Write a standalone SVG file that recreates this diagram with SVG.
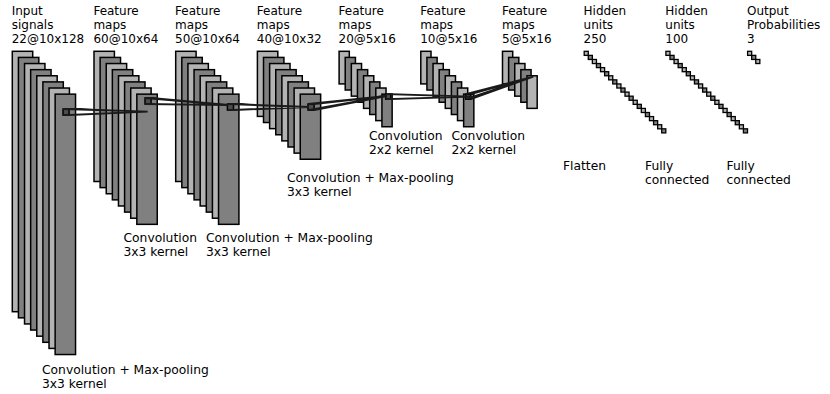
<svg xmlns="http://www.w3.org/2000/svg" width="830" height="394" viewBox="0 0 830 394">
<style>
text{font-family:"DejaVu Sans","Liberation Sans",sans-serif;font-size:12px;fill:#000}
.op text{font-size:12.3px}
.l{fill:#b3b3b3;stroke:#000;stroke-width:1.5}
.m{fill:#808080;stroke:#000;stroke-width:1.5}
.fl{fill:#b3b3b3;stroke:#000;stroke-width:1.3}
.fm{fill:#808080;stroke:#000;stroke-width:1.3}
.p{fill:#4d4d4d;stroke:#000;stroke-width:1.5}
.c{stroke:#1a1a1a;stroke-width:1.8;fill:none}
</style>
<rect width="830" height="394" fill="#fff"/>
<g id="layer0">
<rect class="l" x="12.3" y="51.3" width="20.4" height="260.4"/>
<rect class="m" x="18.42" y="57.42" width="20.4" height="260.4"/>
<rect class="l" x="24.54" y="63.54" width="20.4" height="260.4"/>
<rect class="m" x="30.66" y="69.66" width="20.4" height="260.4"/>
<rect class="l" x="36.78" y="75.78" width="20.4" height="260.4"/>
<rect class="m" x="42.9" y="81.9" width="20.4" height="260.4"/>
<rect class="l" x="49.02" y="88.02" width="20.4" height="260.4"/>
<rect class="m" x="55.14" y="94.14" width="20.4" height="260.4"/>
<text x="11.7" y="15">Input</text><text x="11.7" y="29.2">signals</text><text x="11.7" y="43.3">22@10x128</text>
</g>
<g id="layer1">
<rect class="l" x="94" y="51.3" width="20.4" height="130.2"/>
<rect class="m" x="100.12" y="57.42" width="20.4" height="130.2"/>
<rect class="l" x="106.24" y="63.54" width="20.4" height="130.2"/>
<rect class="m" x="112.36" y="69.66" width="20.4" height="130.2"/>
<rect class="l" x="118.48" y="75.78" width="20.4" height="130.2"/>
<rect class="m" x="124.6" y="81.9" width="20.4" height="130.2"/>
<rect class="l" x="130.72" y="88.02" width="20.4" height="130.2"/>
<rect class="m" x="136.84" y="94.14" width="20.4" height="130.2"/>
<text x="93.4" y="15">Feature</text><text x="93.4" y="29.2">maps</text><text x="93.4" y="43.3">60@10x64</text>
</g>
<g id="layer2">
<rect class="l" x="175.7" y="51.3" width="20.4" height="130.2"/>
<rect class="m" x="181.82" y="57.42" width="20.4" height="130.2"/>
<rect class="l" x="187.94" y="63.54" width="20.4" height="130.2"/>
<rect class="m" x="194.06" y="69.66" width="20.4" height="130.2"/>
<rect class="l" x="200.18" y="75.78" width="20.4" height="130.2"/>
<rect class="m" x="206.3" y="81.9" width="20.4" height="130.2"/>
<rect class="l" x="212.42" y="88.02" width="20.4" height="130.2"/>
<rect class="m" x="218.54" y="94.14" width="20.4" height="130.2"/>
<text x="175.1" y="15">Feature</text><text x="175.1" y="29.2">maps</text><text x="175.1" y="43.3">50@10x64</text>
</g>
<g id="layer3">
<rect class="l" x="257.4" y="51.3" width="20.4" height="65.1"/>
<rect class="m" x="263.52" y="57.42" width="20.4" height="65.1"/>
<rect class="l" x="269.64" y="63.54" width="20.4" height="65.1"/>
<rect class="m" x="275.76" y="69.66" width="20.4" height="65.1"/>
<rect class="l" x="281.88" y="75.78" width="20.4" height="65.1"/>
<rect class="m" x="288" y="81.9" width="20.4" height="65.1"/>
<rect class="l" x="294.12" y="88.02" width="20.4" height="65.1"/>
<rect class="m" x="300.24" y="94.14" width="20.4" height="65.1"/>
<text x="256.8" y="15">Feature</text><text x="256.8" y="29.2">maps</text><text x="256.8" y="43.3">40@10x32</text>
</g>
<g id="layer4">
<rect class="l" x="339.1" y="51.3" width="10.2" height="32.6"/>
<rect class="m" x="345.22" y="57.42" width="10.2" height="32.6"/>
<rect class="l" x="351.34" y="63.54" width="10.2" height="32.6"/>
<rect class="m" x="357.46" y="69.66" width="10.2" height="32.6"/>
<rect class="l" x="363.58" y="75.78" width="10.2" height="32.6"/>
<rect class="m" x="369.7" y="81.9" width="10.2" height="32.6"/>
<rect class="l" x="375.82" y="88.02" width="10.2" height="32.6"/>
<rect class="m" x="381.94" y="94.14" width="10.2" height="32.6"/>
<text x="338.5" y="15">Feature</text><text x="338.5" y="29.2">maps</text><text x="338.5" y="43.3">20@5x16</text>
</g>
<g id="layer5">
<rect class="l" x="420.8" y="51.3" width="10.2" height="32.6"/>
<rect class="m" x="426.92" y="57.42" width="10.2" height="32.6"/>
<rect class="l" x="433.04" y="63.54" width="10.2" height="32.6"/>
<rect class="m" x="439.16" y="69.66" width="10.2" height="32.6"/>
<rect class="l" x="445.28" y="75.78" width="10.2" height="32.6"/>
<rect class="m" x="451.4" y="81.9" width="10.2" height="32.6"/>
<rect class="l" x="457.52" y="88.02" width="10.2" height="32.6"/>
<rect class="m" x="463.64" y="94.14" width="10.2" height="32.6"/>
<text x="420.2" y="15">Feature</text><text x="420.2" y="29.2">maps</text><text x="420.2" y="43.3">10@5x16</text>
</g>
<g id="layer6">
<rect class="l" x="502.5" y="51.3" width="10.2" height="32.6"/>
<rect class="m" x="508.62" y="57.42" width="10.2" height="32.6"/>
<rect class="l" x="514.74" y="63.54" width="10.2" height="32.6"/>
<rect class="m" x="520.86" y="69.66" width="10.2" height="32.6"/>
<rect class="l" x="526.98" y="75.78" width="10.2" height="32.6"/>
<text x="501.9" y="15">Feature</text><text x="501.9" y="29.2">maps</text><text x="501.9" y="43.3">5@5x16</text>
</g>
<g id="connectors">
<rect class="p" x="63" y="109" width="6.1" height="6.1"/>
<rect class="p" x="145" y="98" width="6.1" height="6.1"/>
<rect class="p" x="227.4" y="104" width="6.1" height="6.1"/>
<rect class="p" x="308" y="104" width="6.1" height="6.1"/>
<rect class="p" x="385.7" y="94.2" width="5" height="5"/>
<rect class="p" x="465.7" y="94.2" width="5" height="5"/>
<path class="c" d="M63 109L147.7 111.7M69.1 109L147.7 111.7M63 115.1L147.7 111.7M69.1 115.1L147.7 111.7"/>
<path class="c" d="M145 98L228.3 105M151.1 98L228.3 105M145 104.1L228.3 105M151.1 104.1L228.3 105"/>
<path class="c" d="M227.4 104L309 107M233.5 104L309 107M227.4 110.1L309 107M233.5 110.1L309 107"/>
<path class="c" d="M308 104L386.7 96M314.1 104L386.7 96M308 110.1L386.7 96M314.1 110.1L386.7 96"/>
<path class="c" d="M385.7 94.2L471.7 96.7M390.7 94.2L471.7 96.7M385.7 99.2L471.7 96.7M390.7 99.2L471.7 96.7"/>
<path class="c" d="M465.7 94.2L533.3 76.7M470.7 94.2L533.3 76.7M465.7 99.2L533.3 76.7M470.7 99.2L533.3 76.7"/>
</g>
<g id="fc250">
<rect class="fl" x="584.2" y="51.3" width="4.08" height="4.08"/>
<rect class="fm" x="588.28" y="55.38" width="4.08" height="4.08"/>
<rect class="fl" x="592.36" y="59.46" width="4.08" height="4.08"/>
<rect class="fm" x="596.44" y="63.54" width="4.08" height="4.08"/>
<rect class="fl" x="600.52" y="67.62" width="4.08" height="4.08"/>
<rect class="fm" x="604.6" y="71.7" width="4.08" height="4.08"/>
<rect class="fl" x="608.68" y="75.78" width="4.08" height="4.08"/>
<rect class="fm" x="612.76" y="79.86" width="4.08" height="4.08"/>
<rect class="fl" x="616.84" y="83.94" width="4.08" height="4.08"/>
<rect class="fm" x="620.92" y="88.02" width="4.08" height="4.08"/>
<rect class="fl" x="625" y="92.1" width="4.08" height="4.08"/>
<rect class="fm" x="629.08" y="96.18" width="4.08" height="4.08"/>
<rect class="fl" x="633.16" y="100.26" width="4.08" height="4.08"/>
<rect class="fm" x="637.24" y="104.34" width="4.08" height="4.08"/>
<rect class="fl" x="641.32" y="108.42" width="4.08" height="4.08"/>
<rect class="fm" x="645.4" y="112.5" width="4.08" height="4.08"/>
<rect class="fl" x="649.48" y="116.58" width="4.08" height="4.08"/>
<rect class="fm" x="653.56" y="120.66" width="4.08" height="4.08"/>
<rect class="fl" x="657.64" y="124.74" width="4.08" height="4.08"/>
<rect class="fm" x="661.72" y="128.82" width="4.08" height="4.08"/>
<text x="583.6" y="15">Hidden</text><text x="583.6" y="29.2">units</text><text x="583.6" y="43.3">250</text>
</g>
<g id="fc100">
<rect class="fl" x="665.9" y="51.3" width="4.08" height="4.08"/>
<rect class="fm" x="669.98" y="55.38" width="4.08" height="4.08"/>
<rect class="fl" x="674.06" y="59.46" width="4.08" height="4.08"/>
<rect class="fm" x="678.14" y="63.54" width="4.08" height="4.08"/>
<rect class="fl" x="682.22" y="67.62" width="4.08" height="4.08"/>
<rect class="fm" x="686.3" y="71.7" width="4.08" height="4.08"/>
<rect class="fl" x="690.38" y="75.78" width="4.08" height="4.08"/>
<rect class="fm" x="694.46" y="79.86" width="4.08" height="4.08"/>
<rect class="fl" x="698.54" y="83.94" width="4.08" height="4.08"/>
<rect class="fm" x="702.62" y="88.02" width="4.08" height="4.08"/>
<rect class="fl" x="706.7" y="92.1" width="4.08" height="4.08"/>
<rect class="fm" x="710.78" y="96.18" width="4.08" height="4.08"/>
<rect class="fl" x="714.86" y="100.26" width="4.08" height="4.08"/>
<rect class="fm" x="718.94" y="104.34" width="4.08" height="4.08"/>
<rect class="fl" x="723.02" y="108.42" width="4.08" height="4.08"/>
<rect class="fm" x="727.1" y="112.5" width="4.08" height="4.08"/>
<rect class="fl" x="731.18" y="116.58" width="4.08" height="4.08"/>
<rect class="fm" x="735.26" y="120.66" width="4.08" height="4.08"/>
<rect class="fl" x="739.34" y="124.74" width="4.08" height="4.08"/>
<rect class="fm" x="743.42" y="128.82" width="4.08" height="4.08"/>
<text x="665.3" y="15">Hidden</text><text x="665.3" y="29.2">units</text><text x="665.3" y="43.3">100</text>
</g>
<g id="output">
<rect class="fl" x="747.6" y="51.3" width="4.08" height="4.08"/>
<rect class="fm" x="751.68" y="55.38" width="4.08" height="4.08"/>
<rect class="fl" x="755.76" y="59.46" width="4.08" height="4.08"/>
<text x="747" y="15">Output</text><text x="747" y="29.2">Probabilities</text><text x="747" y="43.3">3</text>
</g>
<g id="operation-labels" class="op">
<text x="42" y="374">Convolution + Max-pooling</text><text x="42" y="388.3">3x3 kernel</text>
<text x="123.5" y="241.7">Convolution</text><text x="123.5" y="255.7">3x3 kernel</text>
<text x="206" y="241.7">Convolution + Max-pooling</text><text x="206" y="255.7">3x3 kernel</text>
<text x="287" y="181.5">Convolution + Max-pooling</text><text x="287" y="195.5">3x3 kernel</text>
<text x="369" y="140">Convolution</text><text x="369" y="153.7">2x2 kernel</text>
<text x="451.5" y="140">Convolution</text><text x="451.5" y="153.7">2x2 kernel</text>
<text x="563" y="170">Flatten</text>
<text x="645" y="170">Fully</text><text x="645" y="184">connected</text>
<text x="726.5" y="170">Fully</text><text x="726.5" y="184">connected</text>
</g>
</svg>
